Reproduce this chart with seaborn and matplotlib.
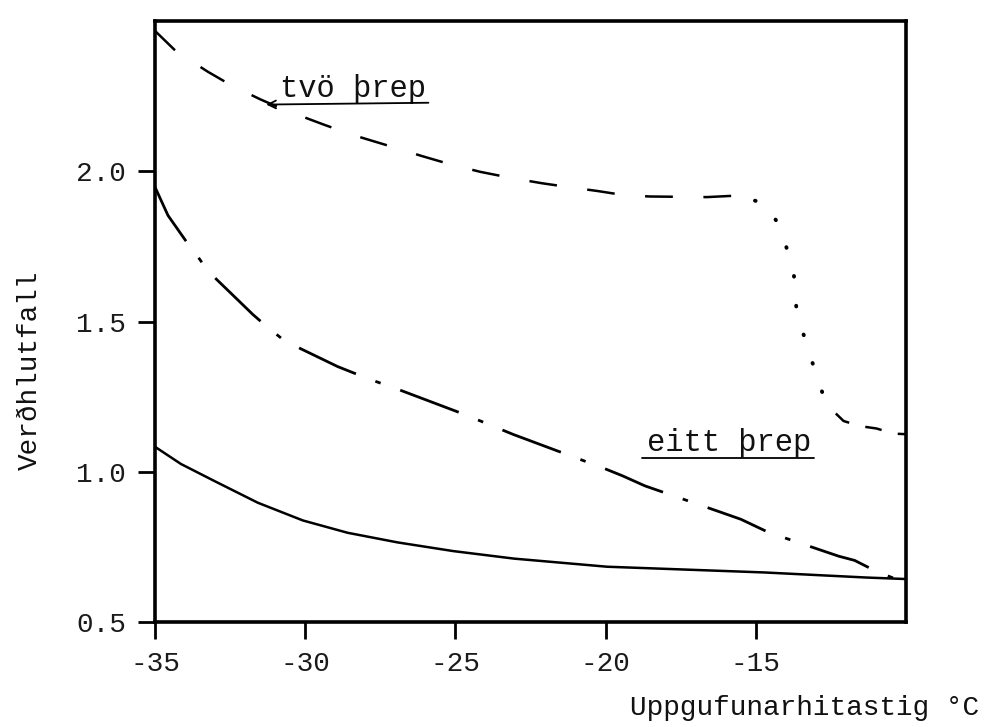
import matplotlib
matplotlib.use("Agg")
import matplotlib.pyplot as plt
import seaborn as sns
import pandas as pd

# ---- data ----
# "tvö þrep" curve (dashed, dotted in its steep part)
two_x = [-35.0, -34.30, -33.24, -32.48, -31.51, -30.71, -29.35, -28.39, -27.13, -26.13,
         -25.17, -24.17, -23.11, -22.11, -21.35, -20.25, -19.35, -18.52, -17.52, -16.63,
         -15.63, -14.67, -14.17, -13.74, -13.64, -13.14, -12.91, -12.67, -12.08, -11.54,
         -10.98, -10.42, -10.0]
two_y = [2.467, 2.399, 2.331, 2.287, 2.240, 2.205, 2.154, 2.120, 2.082, 2.051,
         2.023, 1.998, 1.977, 1.960, 1.949, 1.934, 1.920, 1.916, 1.915, 1.914,
         1.919, 1.892, 1.811, 1.664, 1.530, 1.370, 1.303, 1.226, 1.169, 1.152,
         1.144, 1.127, 1.125]

# dash-dot curve
dd_x = [-35.0, -34.57, -33.84, -33.57, -33.24, -31.74, -31.28, -30.68, -28.92, -27.89,
        -26.93, -24.73, -23.07, -20.12, -19.45, -18.69, -16.30, -15.50, -14.57, -12.24,
        -11.71, -10.98, -10.0]
dd_y = [1.947, 1.853, 1.749, 1.715, 1.668, 1.523, 1.483, 1.435, 1.350, 1.309,
        1.275, 1.192, 1.124, 1.014, 0.987, 0.953, 0.870, 0.842, 0.798, 0.719,
        0.705, 0.668, 0.630]

# solid curve
solid_x = [-35.0, -34.14, -33.0, -31.58, -30.08, -28.59, -26.93, -25.07, -23.05, -19.95,
           -14.73, -11.31, -10.0]
solid_y = [1.083, 1.026, 0.968, 0.897, 0.838, 0.797, 0.765, 0.736, 0.711, 0.684,
           0.665, 0.648, 0.643]

x_ticks = [-35, -30, -25, -20, -15]
x_tick_labels = ["-35", "-30", "-25", "-20", "-15"]
y_ticks = [0.5, 1.0, 1.5, 2.0]
y_tick_labels = ["0.5", "1.0", "1.5", "2.0"]

x_label = "Uppgufunarhitastig °C"
y_label = "Verðhlutfall"
label_two = "tvö þrep"
label_one = "eitt þrep"

# ---- styling ----
sns.set_theme(style="white")
plt.rcParams["font.family"] = ["Liberation Mono", "DejaVu Sans Mono", "DejaVu Sans"]
plt.rcParams["lines.scale_dashes"] = False
plt.rcParams["axes.unicode_minus"] = False

fig = plt.figure(figsize=(9.94, 7.27), dpi=100)
ax = fig.add_axes([0.156, 0.1444, 0.7555, 0.8267])

lw = 1.8
df_two = pd.DataFrame({"x": two_x, "y": two_y})
head = df_two[df_two["x"] <= -15.6]
steep = df_two[(df_two["x"] >= -15.64) & (df_two["x"] <= -12.6)]
tail = df_two[df_two["x"] >= -12.68]

sns.lineplot(data=head, x="x", y="y", ax=ax, color="black", lw=lw,
             linestyle=(0, (20, 22)), estimator=None, sort=False)
sns.lineplot(data=steep, x="x", y="y", ax=ax, color="black", lw=2.8,
             linestyle=(8, (0.5, 21)), dash_capstyle="round", estimator=None, sort=False)
sns.lineplot(data=tail, x="x", y="y", ax=ax, color="black", lw=lw,
             linestyle=(14, (12, 12)), estimator=None, sort=False)

df_dd = pd.DataFrame({"x": dd_x, "y": dd_y})
sns.lineplot(data=df_dd, x="x", y="y", ax=ax, color="black", lw=2.0,
             linestyle=(0, (45, 15, 4, 15)), estimator=None, sort=False)

df_solid = pd.DataFrame({"x": solid_x, "y": solid_y})
sns.lineplot(data=df_solid, x="x", y="y", ax=ax, color="black", lw=lw,
             estimator=None, sort=False)

ax.set_xlim(-35, -10)
ax.set_ylim(0.5, 2.5)
ax.set_xticks(x_ticks)
ax.set_xticklabels(x_tick_labels)
ax.set_yticks(y_ticks)
ax.set_yticklabels(y_tick_labels)
ax.tick_params(axis="both", direction="out", length=12, width=2, color="black",
               labelsize=20, labelcolor="#1a1a1a", pad=9,
               bottom=True, left=True, top=False, right=False)
ax.set_xlabel("")
ax.set_ylabel("")
for s in ax.spines.values():
    s.set_visible(True)
    s.set_color("black")
    s.set_linewidth(2.6)
ax.grid(False)

# annotations
ax.text(-28.4, 2.275, label_two, fontsize=22, ha="center", va="center", color="#111111")
ax.annotate("", xy=(-31.3, 2.222), xytext=(-25.9, 2.228),
            arrowprops=dict(arrowstyle="->", lw=1.3, color="black",
                            mutation_scale=14, shrinkA=0, shrinkB=0))
ax.text(-15.9, 1.097, label_one, fontsize=22, ha="center", va="center", color="#111111")
ax.plot([-18.8, -13.05], [1.045, 1.045], color="black", lw=1.3)

fig.text(630 / 994, 1 - 708 / 727, x_label, fontsize=20, ha="left", va="center",
         color="#111111")
fig.text(30 / 994, 1 - 370 / 727, y_label, fontsize=20, ha="center", va="center",
         rotation=90, color="#111111")

fig.savefig("out.png", dpi=100, facecolor="white")
